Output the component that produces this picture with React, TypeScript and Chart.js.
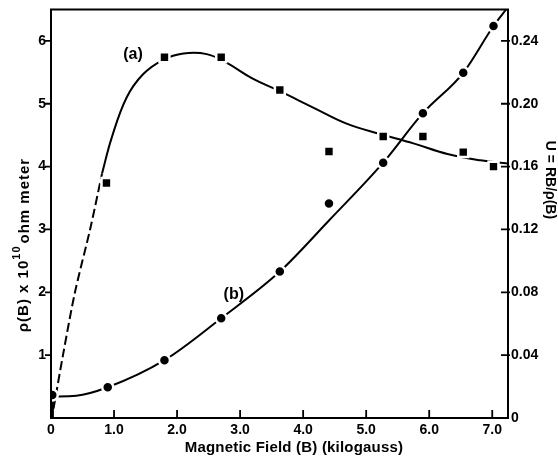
import React, { useEffect, useRef } from "react";
import { Chart, registerables } from "chart.js";

Chart.register(...registerables);

// ---- Axis ticks ----
const xTicks = [0, 1, 2, 3, 4, 5, 6, 7];
const xTickLabels = ["0", "1.0", "2.0", "3.0", "4.0", "5.0", "6.0", "7.0"];
const leftTicks = [1, 2, 3, 4, 5, 6];
const leftTickLabels = ["1", "2", "3", "4", "5", "6"];
const rightTicks = [0, 0.04, 0.08, 0.12, 0.16, 0.2, 0.24];
const rightTickLabels = ["0", "0.04", "0.08", "0.12", "0.16", "0.20", "0.24"];

// ---- Measured points ----
// (a) resistivity rho(B), left axis (squares)
const squareX = [0.88, 1.8, 2.7, 3.63, 4.41, 5.27, 5.9, 6.54, 7.02];
const squareY = [3.74, 5.74, 5.74, 5.22, 4.24, 4.48, 4.48, 4.23, 4.0];
// (b) U = RB/rho(B), right axis (circles)
const circleX = [0.02, 0.9, 1.8, 2.7, 3.63, 4.41, 5.27, 5.9, 6.54, 7.02];
const circleU = [0.0146, 0.0196, 0.0368, 0.0635, 0.0932, 0.1365, 0.1625, 0.194, 0.2197, 0.2495];

// ---- Fitted curves ----
const curveADashX = [0.04, 0.19, 0.38, 0.62, 0.81];
const curveADashY = [0.15, 1.0, 2.0, 3.0, 3.89];
const curveAX = [0.81, 0.96, 1.2, 1.46, 1.78, 2.1, 2.47, 2.79, 3.2, 3.63, 4.16, 4.7, 5.22, 5.75, 6.29, 6.81, 7.25];
const curveAY = [3.89, 4.45, 5.1, 5.47, 5.7, 5.8, 5.79, 5.65, 5.4, 5.2, 4.94, 4.68, 4.52, 4.37, 4.2, 4.1, 4.05];
const curveBStemX = [0.03, 0.03];
const curveBStemU = [0.0, 0.0146];
const curveBX = [0.02, 0.4, 0.9, 1.8, 2.7, 3.63, 4.41, 5.27, 5.9, 6.54, 7.02, 7.22];
const curveBU = [0.0137, 0.0142, 0.0196, 0.0368, 0.0635, 0.0932, 0.1257, 0.1625, 0.194, 0.2197, 0.2495, 0.26];

// ---- Annotations ----
const curveLabels = ["(a)", "(b)"];
const curveLabelX = [1.3, 2.9];
const curveLabelY = [5.78, 1.97];

const xTitle = "Magnetic Field (B) (kilogauss)";
const leftTitleParts = ["\u03C1(B) x 10", "10", "ohm meter"];
const rightTitle = "U = RB/\u03C1(B)";

const FONT = "'Liberation Sans', Arial, sans-serif";

const pts = (xs: number[], ys: number[]) => xs.map((x, i) => ({ x, y: ys[i] }));

const decorPlugin = {
  id: "decor",
  afterDraw(chart: any) {
    const { ctx, chartArea: a, scales } = chart;
    const sx = scales.x;
    const sy = scales.y;
    const sy1 = scales.y1;
    ctx.save();
    ctx.strokeStyle = "#000";
    ctx.fillStyle = "#000";
    ctx.lineWidth = 2;
    ctx.strokeRect(a.left, a.top, a.right - a.left, a.bottom - a.top);
    ctx.lineWidth = 1.8;
    ctx.beginPath();
    xTicks.forEach((v) => {
      if (v === 0) return;
      const px = sx.getPixelForValue(v);
      ctx.moveTo(px, a.bottom);
      ctx.lineTo(px, a.bottom - 8);
    });
    leftTicks.forEach((v) => {
      const py = sy.getPixelForValue(v);
      ctx.moveTo(a.left - 6, py);
      ctx.lineTo(a.left, py);
    });
    rightTicks.forEach((v) => {
      if (v === 0) return;
      const py = sy1.getPixelForValue(v);
      ctx.moveTo(a.right - 7, py);
      ctx.lineTo(a.right + 2, py);
    });
    ctx.stroke();

    // curve labels
    ctx.font = `bold 16px ${FONT}`;
    ctx.textAlign = "center";
    ctx.textBaseline = "middle";
    curveLabels.forEach((t, i) => {
      ctx.fillText(t, sx.getPixelForValue(curveLabelX[i]), sy.getPixelForValue(curveLabelY[i]));
    });

    // x title
    ctx.font = `bold 15px ${FONT}`;
    (ctx as any).letterSpacing = "0.2px";
    ctx.fillText(xTitle, 294, 448);

    // left title with superscript
    ctx.save();
    ctx.translate(24, 245);
    ctx.rotate(-Math.PI / 2);
    ctx.textAlign = "left";
    ctx.textBaseline = "middle";
    (ctx as any).letterSpacing = "1px";
    const mainFont = `bold 15px ${FONT}`;
    const supFont = `bold 11px ${FONT}`;
    ctx.font = mainFont;
    const w1 = ctx.measureText(leftTitleParts[0]).width;
    const w3 = ctx.measureText(leftTitleParts[2]).width;
    ctx.font = supFont;
    const w2 = ctx.measureText(leftTitleParts[1]).width;
    const total = w1 + w2 + w3 + 2;
    let cx = -total / 2;
    ctx.font = mainFont;
    ctx.fillText(leftTitleParts[0], cx, 0);
    cx += w1;
    ctx.font = supFont;
    ctx.fillText(leftTitleParts[1], cx, -7);
    cx += w2 + 2;
    ctx.font = mainFont;
    ctx.fillText(leftTitleParts[2], cx, 1);
    ctx.restore();

    // right title
    ctx.save();
    ctx.translate(550, 180);
    ctx.rotate(Math.PI / 2);
    (ctx as any).letterSpacing = "0px";
    ctx.font = `bold 14px ${FONT}`;
    ctx.textAlign = "center";
    ctx.textBaseline = "middle";
    ctx.fillText(rightTitle, 0, 0);
    ctx.restore();

    ctx.restore();
  },
};

export default function App() {
  const ref = useRef<HTMLCanvasElement | null>(null);
  useEffect(() => {
    if (!ref.current) return;
    const tickFont = { family: FONT, size: 14, weight: "bold" as const };
    const noPad = (s: any) => {
      s.paddingTop = 0;
      s.paddingBottom = 0;
      s.paddingLeft = 0;
      s.paddingRight = 0;
    };
    const chart = new Chart(ref.current, {
      type: "scatter",
      data: {
        datasets: [
          {
            label: "(a) data",
            data: pts(squareX, squareY),
            yAxisID: "y",
            pointStyle: "rect",
            pointRadius: 7,
            pointBackgroundColor: "#000",
            pointBorderColor: "#fff",
            pointBorderWidth: 2.5,
            showLine: false,
            order: 1,
          },
          {
            label: "(b) data",
            data: pts(circleX, circleU),
            yAxisID: "y1",
            pointStyle: "circle",
            pointRadius: 5.5,
            pointBackgroundColor: "#000",
            pointBorderColor: "#fff",
            pointBorderWidth: 2.5,
            showLine: false,
            order: 1,
          },
          {
            label: "(a) dashed",
            data: pts(curveADashX, curveADashY),
            yAxisID: "y",
            showLine: true,
            borderColor: "#000",
            borderWidth: 2,
            borderDash: [9, 4],
            tension: 0.3,
            pointRadius: 0,
            order: 2,
          },
          {
            label: "(a) fit",
            data: pts(curveAX, curveAY),
            yAxisID: "y",
            showLine: true,
            borderColor: "#000",
            borderWidth: 2,
            tension: 0.4,
            pointRadius: 0,
            order: 2,
          },
          {
            label: "(b) stem",
            data: pts(curveBStemX, curveBStemU),
            yAxisID: "y1",
            showLine: true,
            borderColor: "#000",
            borderWidth: 2,
            tension: 0,
            pointRadius: 0,
            order: 2,
          },
          {
            label: "(b) fit",
            data: pts(curveBX, curveBU),
            yAxisID: "y1",
            showLine: true,
            borderColor: "#000",
            borderWidth: 2,
            cubicInterpolationMode: "monotone",
            pointRadius: 0,
            order: 2,
          },
        ],
      },
      options: {
        animation: false,
        responsive: false,
        events: [],
        layout: { padding: { top: 9, left: 0, right: 0, bottom: 0 } },
        plugins: { legend: { display: false }, tooltip: { enabled: false } },
        scales: {
          x: {
            type: "linear",
            min: 0,
            max: 7.25,
            grid: { display: false, drawTicks: false },
            border: { display: false },
            afterBuildTicks: (s: any) => {
              s.ticks = xTicks.map((v) => ({ value: v }));
            },
            afterFit: (s: any) => {
              s.height = 41;
              noPad(s);
            },
            ticks: {
              color: "#000",
              font: tickFont,
              padding: 4,
              maxRotation: 0,
              autoSkip: false,
              callback: (v: any) => {
                const i = xTicks.indexOf(Number(v));
                return i >= 0 ? xTickLabels[i] : "";
              },
            },
          },
          y: {
            type: "linear",
            position: "left",
            min: 0,
            max: 6.5,
            grid: { display: false, drawTicks: false },
            border: { display: false },
            afterBuildTicks: (s: any) => {
              s.ticks = leftTicks.map((v) => ({ value: v }));
            },
            afterFit: (s: any) => {
              s.width = 51;
              noPad(s);
            },
            ticks: {
              color: "#000",
              font: tickFont,
              padding: 5,
              autoSkip: false,
              callback: (v: any) => {
                const i = leftTicks.indexOf(Number(v));
                return i >= 0 ? leftTickLabels[i] : "";
              },
            },
          },
          y1: {
            type: "linear",
            position: "right",
            min: 0,
            max: 0.26,
            grid: { display: false, drawTicks: false },
            border: { display: false },
            afterBuildTicks: (s: any) => {
              s.ticks = rightTicks.map((v) => ({ value: v }));
            },
            afterFit: (s: any) => {
              s.width = 50;
              noPad(s);
            },
            ticks: {
              color: "#000",
              font: tickFont,
              padding: 3,
              autoSkip: false,
              callback: (v: any) => {
                const i = rightTicks.findIndex((t) => Math.abs(t - Number(v)) < 1e-9);
                return i >= 0 ? rightTickLabels[i] : "";
              },
            },
          },
        },
      },
      plugins: [decorPlugin],
    });
    return () => chart.destroy();
  }, []);

  return (
    <div style={{ position: "absolute", left: 0, top: 0, width: 558, height: 459, background: "#fff" }}>
      <canvas ref={ref} width={558} height={459} />
    </div>
  );
}
